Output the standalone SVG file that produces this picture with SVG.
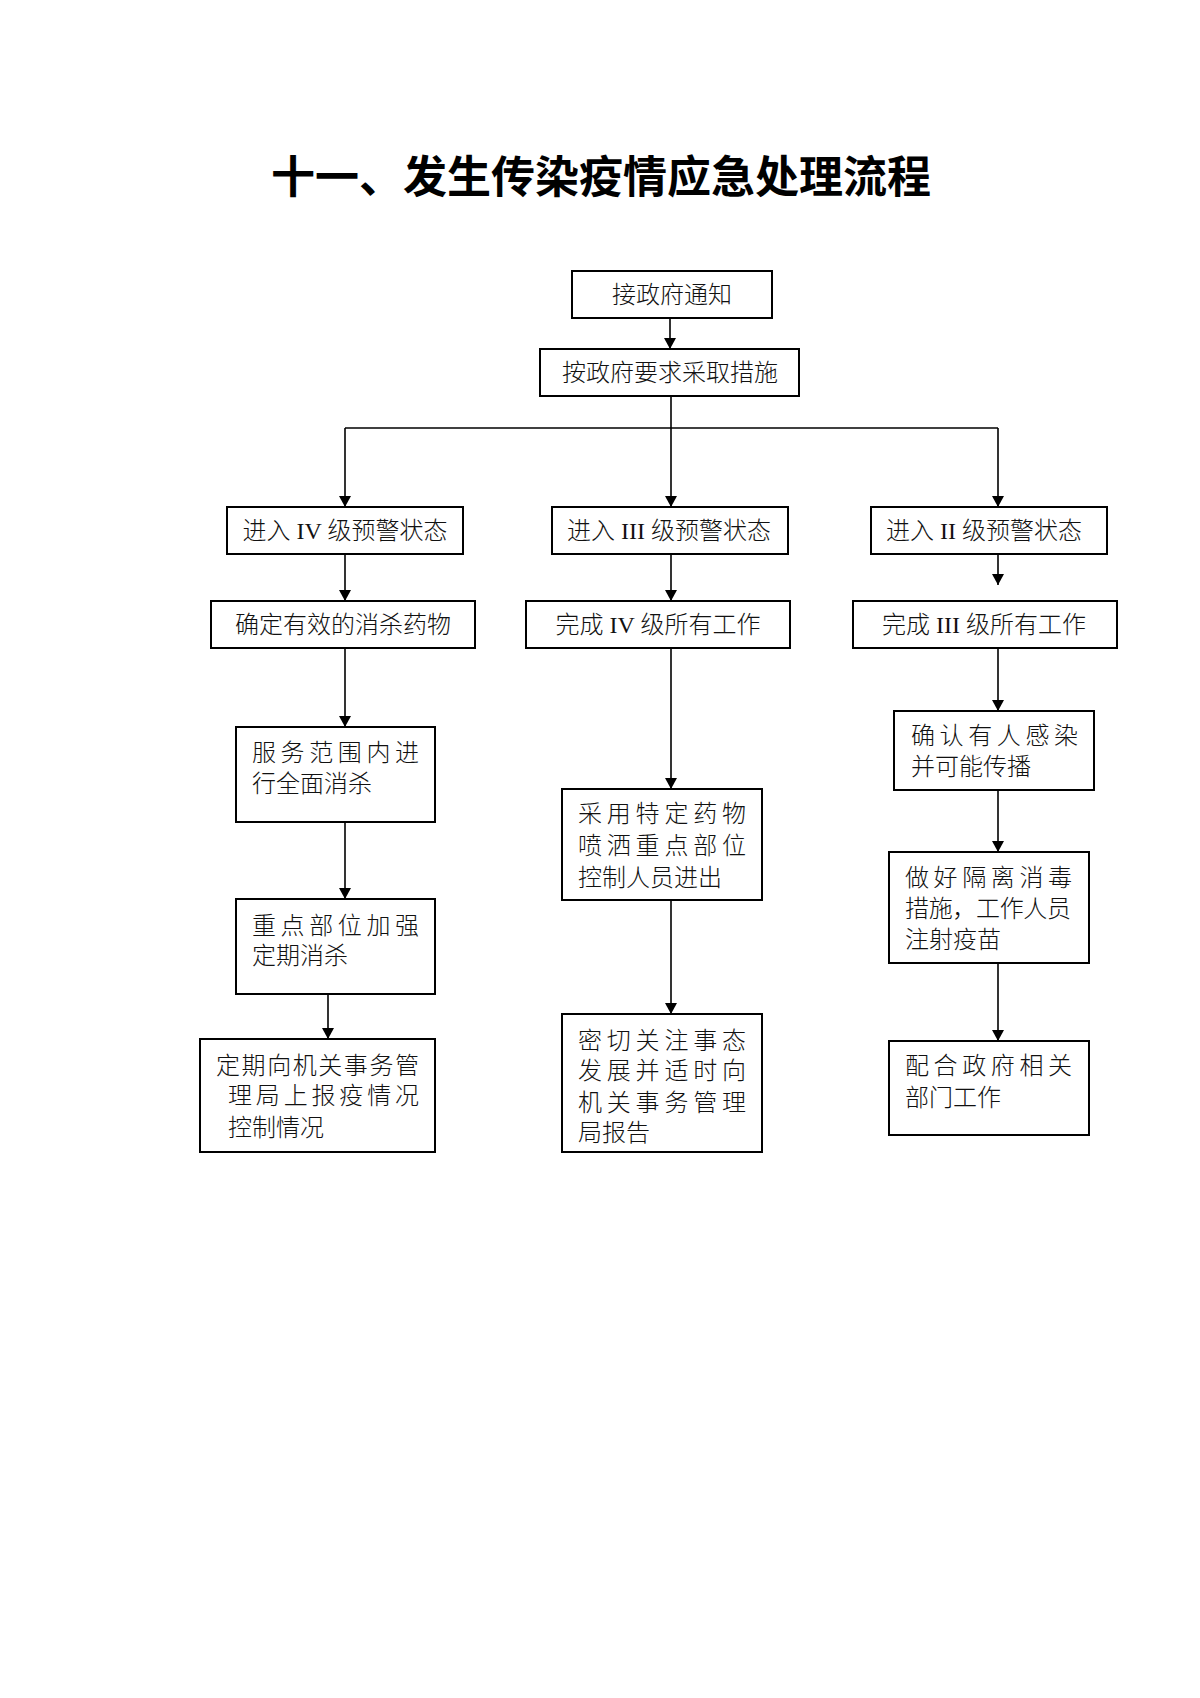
<svg xmlns="http://www.w3.org/2000/svg" width="1200" height="1698" viewBox="0 0 1200 1698">
<defs>
<marker id="ah" markerUnits="userSpaceOnUse" markerWidth="12" markerHeight="14" refX="11" refY="6" orient="auto" viewBox="0 0 12 12">
<path d="M0,0 L11,6 L0,12 z" fill="#000"/>
</marker>
<style>
.box{fill:#fff;stroke:#000;stroke-width:2}
.t{font-family:"Liberation Serif","Noto Sans CJK SC",serif;font-size:24px;fill:#111;font-weight:300}
.c{text-anchor:middle}
.ln{fill:none;stroke:#000;stroke-width:1.6}
.ar{fill:none;stroke:#000;stroke-width:1.6;marker-end:url(#ah)}
.title{font-family:"Noto Sans CJK SC","Liberation Sans",sans-serif;font-size:44px;font-weight:bold;fill:#000;text-anchor:middle}
</style>
</defs>
<rect width="1200" height="1698" fill="#fff"/>
<text class="title" x="601" y="193">十一、发生传染疫情应急处理流程</text>

<g id="connectors">
<line class="ar" x1="670" y1="318" x2="670" y2="349"/>
<line class="ln" x1="671" y1="396" x2="671" y2="428"/>
<line class="ln" x1="345" y1="428" x2="998" y2="428"/>
<line class="ar" x1="345" y1="428" x2="345" y2="507"/>
<line class="ar" x1="671" y1="428" x2="671" y2="507"/>
<line class="ar" x1="998" y1="428" x2="998" y2="507"/>
<line class="ar" x1="345" y1="554" x2="345" y2="601"/>
<line class="ar" x1="671" y1="554" x2="671" y2="601"/>
<line class="ar" x1="998" y1="554" x2="998" y2="585"/>
<line class="ar" x1="345" y1="648" x2="345" y2="727"/>
<line class="ar" x1="345" y1="822" x2="345" y2="899"/>
<line class="ar" x1="328" y1="994" x2="328" y2="1039"/>
<line class="ar" x1="671" y1="648" x2="671" y2="789"/>
<line class="ar" x1="671" y1="900" x2="671" y2="1014"/>
<line class="ar" x1="998" y1="648" x2="998" y2="711"/>
<line class="ar" x1="998" y1="790" x2="998" y2="852"/>
<line class="ar" x1="998" y1="963" x2="998" y2="1041"/>
</g>

<g id="n1"><rect class="box" x="572" y="271" width="200" height="47"/><text class="t c" x="672" y="303">接政府通知</text></g>
<g id="n2"><rect class="box" x="540" y="349" width="259" height="47"/><text class="t c" x="670" y="381">按政府要求采取措施</text></g>

<g id="n3"><rect class="box" x="227" y="507" width="236" height="47"/><text class="t c" x="345" y="539">进入 IV 级预警状态</text></g>
<g id="n4"><rect class="box" x="552" y="507" width="236" height="47"/><text class="t c" x="669" y="539">进入 III 级预警状态</text></g>
<g id="n5"><rect class="box" x="871" y="507" width="236" height="47"/><text class="t c" x="984" y="539">进入 II 级预警状态</text></g>

<g id="n6"><rect class="box" x="211" y="601" width="264" height="47"/><text class="t c" x="343" y="633">确定有效的消杀药物</text></g>
<g id="n7"><rect class="box" x="526" y="601" width="264" height="47"/><text class="t c" x="658" y="633">完成 IV 级所有工作</text></g>
<g id="n8"><rect class="box" x="853" y="601" width="264" height="47"/><text class="t c" x="984" y="633">完成 III 级所有工作</text></g>

<g id="n9"><rect class="box" x="236" y="727" width="199" height="95"/>
<text class="t" x="252" y="761" textLength="167" lengthAdjust="spacing">服务范围内进</text>
<text class="t" x="252" y="792">行全面消杀</text></g>
<g id="n10"><rect class="box" x="236" y="899" width="199" height="95"/>
<text class="t" x="252" y="934" textLength="167" lengthAdjust="spacing">重点部位加强</text>
<text class="t" x="252" y="964">定期消杀</text></g>
<g id="n11"><rect class="box" x="200" y="1039" width="235" height="113"/>
<text class="t" x="216" y="1074" textLength="203" lengthAdjust="spacing">定期向机关事务管</text>
<text class="t" x="228" y="1104" textLength="191" lengthAdjust="spacing">理局上报疫情况</text>
<text class="t" x="228" y="1136">控制情况</text></g>

<g id="n12"><rect class="box" x="562" y="789" width="200" height="111"/>
<text class="t" x="578" y="822" textLength="168" lengthAdjust="spacing">采用特定药物</text>
<text class="t" x="578" y="854" textLength="168" lengthAdjust="spacing">喷洒重点部位</text>
<text class="t" x="578" y="886">控制人员进出</text></g>
<g id="n13"><rect class="box" x="562" y="1014" width="200" height="138"/>
<text class="t" x="578" y="1049" textLength="168" lengthAdjust="spacing">密切关注事态</text>
<text class="t" x="578" y="1079" textLength="168" lengthAdjust="spacing">发展并适时向</text>
<text class="t" x="578" y="1111" textLength="168" lengthAdjust="spacing">机关事务管理</text>
<text class="t" x="578" y="1141">局报告</text></g>

<g id="n14"><rect class="box" x="894" y="711" width="200" height="79"/>
<text class="t" x="911" y="744" textLength="167" lengthAdjust="spacing">确认有人感染</text>
<text class="t" x="911" y="775">并可能传播</text></g>
<g id="n15"><rect class="box" x="889" y="852" width="200" height="111"/>
<text class="t" x="905" y="886" textLength="167" lengthAdjust="spacing">做好隔离消毒</text>
<text class="t" x="905" y="917" textLength="166" lengthAdjust="spacing">措施，工作人员</text>
<text class="t" x="905" y="948">注射疫苗</text></g>
<g id="n16"><rect class="box" x="889" y="1041" width="200" height="94"/>
<text class="t" x="905" y="1074" textLength="167" lengthAdjust="spacing">配合政府相关</text>
<text class="t" x="905" y="1106">部门工作</text></g>
</svg>
